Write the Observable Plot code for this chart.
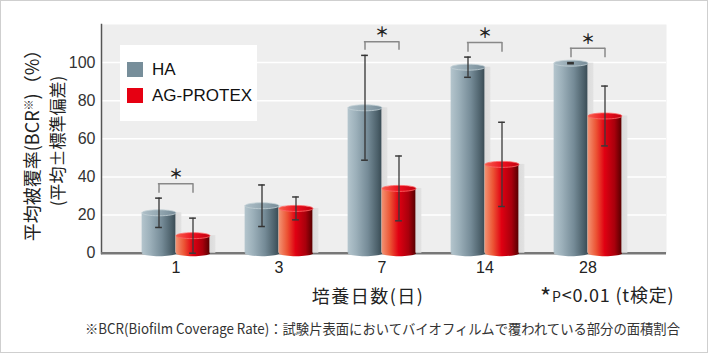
<!DOCTYPE html>
<html><head><meta charset="utf-8">
<script src="https://cdn.jsdelivr.net/npm/d3@7"></script>
<script src="https://cdn.jsdelivr.net/npm/@observablehq/plot@0.6"></script>
<style>
body{margin:0;background:#fff;}
#wrap{position:relative;width:708px;height:353px;overflow:hidden;font-family:"Noto Sans CJK JP","Liberation Sans",sans-serif;color:#222;}
#chart{position:absolute;left:0;top:0;}
#border{position:absolute;left:0;top:0;width:708px;height:353px;box-sizing:border-box;border:1.5px solid #cfcfcf;pointer-events:none;}
.abs{position:absolute;white-space:nowrap;line-height:1;}
.rot{transform:translate(-50%,-50%) rotate(-90deg);}
#legend{position:absolute;left:120px;top:45px;width:137px;height:76px;background:#fff;}
.sw{position:absolute;left:7px;width:16px;height:15px;}
.lt{position:absolute;left:32px;white-space:nowrap;font-family:"Liberation Sans","Noto Sans CJK JP",sans-serif;font-size:17px;color:#111;line-height:1;}
</style></head><body>
<div id="wrap">
  <div id="chart"></div>
  <div id="legend">
    <div class="sw" style="top:17px;background:#778e9a"></div><div class="lt" id="l1" style="top:16px"></div>
    <div class="sw" style="top:43px;background:#e60012"></div><div class="lt" id="l2" style="top:42px"></div>
  </div>
  <div class="abs rot" id="yt1" style="left:31px;top:141px;font-size:18px;">平均被覆率(BCR<sup style="font-size:11px;vertical-align:6px">※</sup>)（%）</div>
  <div class="abs rot" id="yt2" style="left:56px;top:141px;font-size:17px;">(平均±標準偏差)</div>
  <div class="abs" id="xt" style="left:368px;top:295px;transform:translate(-50%,-50%);font-size:18px;letter-spacing:1.5px;">培養日数(日)</div>
  <div class="abs" id="pt" style="left:540px;top:296px;transform:translateY(-50%);font-size:18px;letter-spacing:0.8px;"><span style="font-size:24px;vertical-align:-4px">*</span><span style="font-size:14px">P</span>&lt;0.01 (t検定)</div>
  <div class="abs" id="fn" style="left:85px;top:328px;transform-origin:0 50%;font-size:14px;color:#333;">※BCR(Biofilm Coverage Rate)：試験片表面においてバイオフィルムで覆われている部分の面積割合</div>
  <div id="border"></div>
</div>
<script>
const days = ["1","3","7","14","28"];
const seriesNames = ["HA","AG-PROTEX"];
const haMean = [21.2, 24.9, 76.3, 97.6, 99.7];
const haSD   = [7.7, 10.9, 27.5, 5.3, 0.3];
const agMean = [9.2, 23.5, 34.0, 46.6, 72.0];
const agSD   = [9.2, 6.0, 17.0, 22.1, 15.7];
const sigDays = ["1","7","14","28"];
const sigLow  = [31.5, 106.5, 105.5, 102.5];
const sigHigh = [36.5, 111.0, 110.5, 107.5];
const yTicks = [0,20,40,60,80,100];

document.getElementById("l1").textContent = seriesNames[0];
document.getElementById("l2").textContent = seriesNames[1];

const ha = days.map((d,i)=>({day:d, v:haMean[i], lo:haMean[i]-haSD[i], hi:haMean[i]+haSD[i]}));
const ag = days.map((d,i)=>({day:d, v:agMean[i], lo:Math.max(0,agMean[i]-agSD[i]), hi:agMean[i]+agSD[i]}));
const sig = sigDays.map((d,i)=>({day:d, lo:sigLow[i], hi:sigHigh[i]}));

const step = 103.25, barW = 34, off = barW/2;
const inset = (step - barW)/2;
const capInset = (step - 7)/2;

function ellipse(rx, ry){
  const k = 0.5523;
  return {draw(ctx){
    ctx.moveTo(rx,0);
    ctx.bezierCurveTo(rx, ry*k, rx*k, ry, 0, ry);
    ctx.bezierCurveTo(-rx*k, ry, -rx, ry*k, -rx, 0);
    ctx.bezierCurveTo(-rx, -ry*k, -rx*k, -ry, 0, -ry);
    ctx.bezierCurveTo(rx*k, -ry, rx, -ry*k, rx, 0);
    ctx.closePath();
  }};
}

function defs(){
  const ns = "http://www.w3.org/2000/svg";
  const g = document.createElementNS(ns, "defs");
  const grads = {
    haGrad: [[0,"#b4c5cd"],[0.25,"#9cb0ba"],[0.6,"#758b97"],[0.9,"#4a5e68"],[1,"#3a4c55"]],
    agGrad: [[0,"#f29474"],[0.25,"#ec5434"],[0.5,"#e00012"],[0.8,"#a8000c"],[1,"#580000"]],
    haTop: [[0,"#aebfc8"],[0.5,"#93a7b1"],[1,"#768b97"]],
    agTop: [[0,"#f5604a"],[0.5,"#ee1020"],[1,"#c0000e"]],
    shadow: [[0,"#cfcfcf"],[0.7,"#d6d6d6"],[1,"#e2e2e2"]]
  };
  for (const [id, stops] of Object.entries(grads)) {
    const lg = document.createElementNS(ns, "linearGradient");
    lg.setAttribute("id", id);
    lg.setAttribute("x1","0"); lg.setAttribute("x2","1"); lg.setAttribute("y1","0"); lg.setAttribute("y2","0");
    for (const [o,c] of stops) {
      const s = document.createElementNS(ns, "stop");
      s.setAttribute("offset", o); s.setAttribute("stop-color", c);
      lg.appendChild(s);
    }
    g.appendChild(lg);
  }
  return g;
}

const plot = Plot.plot({
  width: 708, height: 353,
  marginLeft: 101, marginRight: 42, marginTop: 24, marginBottom: 100,
  style: {fontFamily: "'Liberation Sans', 'Noto Sans CJK JP', sans-serif", fontSize: "16px", color: "#333", background: "transparent"},
  x: {domain: days, range: [123, 123 + 5*step], padding: 0},
  y: {domain: [0, 120], range: [252.7, 24]},
  marks: [
    defs,
    Plot.frame({fill: "#eeeeee", stroke: null}),
    Plot.gridY({ticks: [20,40,60,80,100], stroke: "#fff", strokeOpacity: 1, strokeWidth: 1.5}),
    Plot.frame({anchor: "left", stroke: "#555", strokeWidth: 1.5}),
    Plot.axisY({ticks: yTicks, tickSize: 0, tickPadding: 6, label: null, fontSize: 16, fill: "#333"}),
    Plot.axisX({tickSize: 0, tickPadding: 8, label: null, fontSize: 16, fill: "#222"}),
    Plot.ruleY([0], {stroke: "#777", strokeWidth: 2.5}),
    // shadows
    Plot.barY(ha, {x: "day", y: "v", insetLeft: inset, insetRight: inset, dx: -off + 6, fill: "url(#shadow)"}),
    Plot.barY(ag, {x: "day", y: "v", insetLeft: inset, insetRight: inset, dx: off + 6, fill: "url(#shadow)"}),
    // HA cylinders
    Plot.dot(ha, {x: "day", y: () => 0, dx: -off, symbol: ellipse(barW/2, 3), r: 5, fill: "url(#haGrad)", stroke: null}),
    Plot.barY(ha, {x: "day", y: "v", insetLeft: inset, insetRight: inset, dx: -off, fill: "url(#haGrad)"}),
    Plot.dot(ha, {x: "day", y: "v", dx: -off, symbol: ellipse(barW/2, 3), r: 5, fill: "url(#haTop)", stroke: "#c3d0d6", strokeWidth: 0.8}),
    // AG cylinders
    Plot.dot(ag, {x: "day", y: () => 0, dx: off, symbol: ellipse(barW/2, 3), r: 5, fill: "url(#agGrad)", stroke: null}),
    Plot.barY(ag, {x: "day", y: "v", insetLeft: inset, insetRight: inset, dx: off, fill: "url(#agGrad)"}),
    Plot.dot(ag, {x: "day", y: "v", dx: off, symbol: ellipse(barW/2, 3), r: 5, fill: "url(#agTop)", stroke: "#ff6a6a", strokeWidth: 0.8}),
    // error bars
    Plot.ruleX(ha, {x: "day", y1: "lo", y2: "hi", dx: -off, stroke: "#333", strokeWidth: 1.3}),
    Plot.tickY(ha, {x: "day", y: "hi", dx: -off, insetLeft: capInset, insetRight: capInset, stroke: "#333", strokeWidth: 1.5}),
    Plot.tickY(ha, {x: "day", y: "lo", dx: -off, insetLeft: capInset, insetRight: capInset, stroke: "#333", strokeWidth: 1.5}),
    Plot.ruleX(ag, {x: "day", y1: "lo", y2: "hi", dx: off, stroke: "#3a3a3a", strokeWidth: 1.3}),
    Plot.tickY(ag, {x: "day", y: "hi", dx: off, insetLeft: capInset, insetRight: capInset, stroke: "#3a3a3a", strokeWidth: 1.5}),
    Plot.tickY(ag, {x: "day", y: "lo", dx: off, insetLeft: capInset, insetRight: capInset, stroke: "#3a3a3a", strokeWidth: 1.5}),
    // significance brackets
    Plot.ruleX(sig, {x: "day", y1: "lo", y2: "hi", dx: -off, stroke: "#888", strokeWidth: 1.5}),
    Plot.ruleX(sig, {x: "day", y1: "lo", y2: "hi", dx: off, stroke: "#888", strokeWidth: 1.5}),
    Plot.tickY(sig, {x: "day", y: "hi", insetLeft: inset - 0.75, insetRight: inset - 0.75, stroke: "#888", strokeWidth: 1.5}),
    Plot.text(sig, {x: "day", y: "hi", text: () => "＊", dy: -9, fontSize: 14, fontFamily: "Noto Sans CJK JP", fill: "#222", fontWeight: "bold"})
  ]
});
document.getElementById("chart").appendChild(plot);

const fn = document.getElementById("fn");
const w = fn.getBoundingClientRect().width;
fn.style.transform = `translateY(-50%) scaleX(${595 / w})`;
</script>
</body></html>
